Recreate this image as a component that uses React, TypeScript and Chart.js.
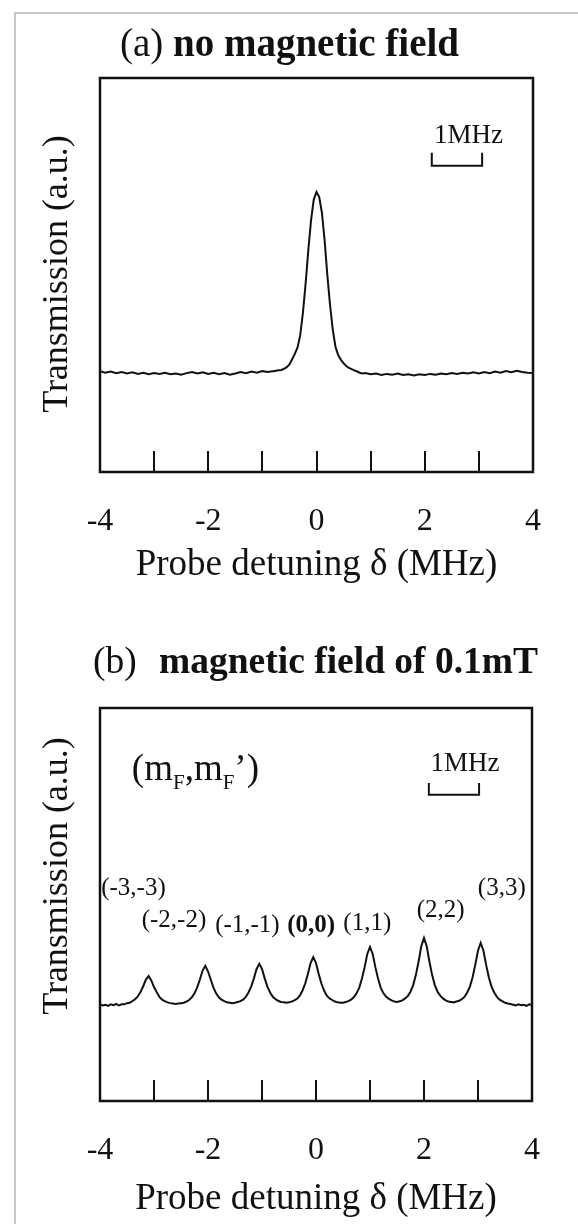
import React, { useEffect, useRef } from 'react';
import { Chart, registerables } from 'chart.js';

Chart.register(...registerables);

const SERIF = '"Liberation Serif", "Times New Roman", serif';
const INK = '#111111';

// ---------- Panel (a): no magnetic field ----------
const xA = [
  -4, -3.9, -3.8, -3.7, -3.6, -3.5, -3.4, -3.3, -3.2, -3.1, -3, -2.9, -2.8, -2.7, -2.6, -2.5,
  -2.4, -2.3, -2.2, -2.1, -2, -1.9, -1.8, -1.7, -1.6, -1.5, -1.4, -1.3, -1.2, -1.1, -1, -0.9,
  -0.85, -0.8, -0.75, -0.7, -0.65, -0.6, -0.55, -0.5, -0.45, -0.4, -0.35, -0.3, -0.25, -0.2, -0.15, -0.1, -0.05,
  0, 0.05, 0.1, 0.15, 0.2, 0.25, 0.3, 0.35, 0.4, 0.45, 0.5, 0.55, 0.6, 0.65, 0.7, 0.75, 0.8, 0.85,
  0.9, 1, 1.1, 1.2, 1.3, 1.4, 1.5, 1.6, 1.7, 1.8, 1.9, 2, 2.1, 2.2, 2.3, 2.4,
  2.5, 2.6, 2.7, 2.8, 2.9, 3, 3.1, 3.2, 3.3, 3.4, 3.5, 3.6, 3.7, 3.8, 3.9, 4,
];
const yA = [
  0.256, 0.252, 0.255, 0.251, 0.254, 0.250, 0.253, 0.249, 0.252, 0.248, 0.251, 0.249, 0.252, 0.248, 0.250, 0.247,
  0.251, 0.254, 0.250, 0.253, 0.249, 0.252, 0.248, 0.251, 0.247, 0.250, 0.254, 0.251, 0.255, 0.252, 0.256, 0.254,
  0.255, 0.256, 0.257, 0.258, 0.259, 0.262, 0.266, 0.273, 0.286, 0.300, 0.316, 0.348, 0.405, 0.480, 0.565, 0.640, 0.692,
  0.711, 0.698, 0.658, 0.588, 0.500, 0.424, 0.362, 0.318, 0.297, 0.285, 0.276, 0.269, 0.264, 0.261, 0.258, 0.255, 0.252, 0.250,
  0.251, 0.248, 0.250, 0.246, 0.249, 0.247, 0.250, 0.246, 0.248, 0.245, 0.248, 0.246, 0.249, 0.247, 0.250, 0.248,
  0.251, 0.249, 0.252, 0.250, 0.253, 0.250, 0.254, 0.251, 0.255, 0.252, 0.256, 0.253, 0.257, 0.254, 0.252, 0.251,
];

// ---------- Panel (b): magnetic field of 0.1 mT ----------
const xB = [
  -4, -3.95, -3.9, -3.85, -3.8, -3.75, -3.7, -3.65, -3.6, -3.55, -3.5, -3.45, -3.4, -3.35, -3.3, -3.25, -3.2, -3.15, -3.1, -3.05,
  -3, -2.95, -2.9, -2.85, -2.8, -2.75, -2.7, -2.65, -2.6, -2.55, -2.5, -2.45, -2.4, -2.35, -2.3, -2.25, -2.2, -2.15, -2.1, -2.05,
  -2, -1.95, -1.9, -1.85, -1.8, -1.75, -1.7, -1.65, -1.6, -1.55, -1.5, -1.45, -1.4, -1.35, -1.3, -1.25, -1.2, -1.15, -1.1, -1.05,
  -1, -0.95, -0.9, -0.85, -0.8, -0.75, -0.7, -0.65, -0.6, -0.55, -0.5, -0.45, -0.4, -0.35, -0.3, -0.25, -0.2, -0.15, -0.1, -0.05,
  0, 0.05, 0.1, 0.15, 0.2, 0.25, 0.3, 0.35, 0.4, 0.45, 0.5, 0.55, 0.6, 0.65, 0.7, 0.75, 0.8, 0.85, 0.9, 0.95,
  1, 1.05, 1.1, 1.15, 1.2, 1.25, 1.3, 1.35, 1.4, 1.45, 1.5, 1.55, 1.6, 1.65, 1.7, 1.75, 1.8, 1.85, 1.9, 1.95,
  2, 2.05, 2.1, 2.15, 2.2, 2.25, 2.3, 2.35, 2.4, 2.45, 2.5, 2.55, 2.6, 2.65, 2.7, 2.75, 2.8, 2.85, 2.9, 2.95,
  3, 3.05, 3.1, 3.15, 3.2, 3.25, 3.3, 3.35, 3.4, 3.45, 3.5, 3.55, 3.6, 3.65, 3.7, 3.75, 3.8, 3.85, 3.9, 3.95,
  4,
];
const yB = [
  0.246, 0.243, 0.245, 0.242, 0.246, 0.244, 0.247, 0.243, 0.246, 0.246, 0.249, 0.250, 0.254, 0.259, 0.266, 0.277, 0.292, 0.309, 0.318, 0.307,
  0.290, 0.277, 0.265, 0.258, 0.254, 0.251, 0.249, 0.248, 0.247, 0.248, 0.249, 0.250, 0.253, 0.257, 0.264, 0.274, 0.289, 0.309, 0.332, 0.344,
  0.330, 0.309, 0.289, 0.274, 0.264, 0.258, 0.254, 0.251, 0.250, 0.249, 0.250, 0.252, 0.254, 0.258, 0.265, 0.276, 0.291, 0.312, 0.336, 0.349,
  0.336, 0.312, 0.291, 0.276, 0.265, 0.259, 0.255, 0.252, 0.251, 0.250, 0.251, 0.253, 0.256, 0.260, 0.268, 0.281, 0.299, 0.323, 0.351, 0.366,
  0.351, 0.323, 0.299, 0.281, 0.268, 0.261, 0.257, 0.253, 0.251, 0.250, 0.250, 0.252, 0.254, 0.258, 0.264, 0.274, 0.288, 0.311, 0.340, 0.374,
  0.392, 0.374, 0.340, 0.311, 0.288, 0.274, 0.265, 0.260, 0.256, 0.253, 0.252, 0.254, 0.256, 0.261, 0.267, 0.278, 0.295, 0.321, 0.355, 0.394,
  0.415, 0.394, 0.355, 0.321, 0.295, 0.278, 0.268, 0.261, 0.256, 0.253, 0.252, 0.251, 0.253, 0.255, 0.259, 0.265, 0.276, 0.291, 0.315, 0.347,
  0.383, 0.402, 0.383, 0.347, 0.315, 0.291, 0.276, 0.265, 0.258, 0.254, 0.250, 0.248, 0.247, 0.245, 0.243, 0.246, 0.244, 0.245, 0.242, 0.246,
  0.244,
];

// axis ticks
const tickValues = [-4, -3, -2, -1, 0, 1, 2, 3, 4];
const labelledTicks = [-4, -2, 0, 2, 4];
const innerTicks = [-3, -2, -1, 0, 1, 2, 3];

// peak labels for panel (b)
const peakLabels = ['(-3,-3)', '(-2,-2)', '(-1,-1)', '(0,0)', '(1,1)', '(2,2)', '(3,3)'];
const peakLabelX = [-3.38, -2.63, -1.27, -0.09, 0.95, 2.31, 3.44];
const peakLabelY = [0.524, 0.443, 0.430, 0.430, 0.435, 0.468, 0.524];
const peakLabelBold = [false, false, false, true, false, false, false];

type PanelCfg = {
  tag: string;
  title: string;
  titleSize: number;
  tagX: number;
  boldX: number;
  titleY: number;
  yTitleCenter: number;
  bar: { x0: number; x1: number; yBottom: number; yTop: number; textX: number; textY: number };
  mf?: { x: number; y: number };
  peaks?: boolean;
};

function makeDeco(cfg: PanelCfg) {
  return {
    id: 'deco',
    afterDraw(chart: any) {
      const { ctx, chartArea: a, scales } = chart;
      const xs = scales.x;
      const ys = scales.y;
      ctx.save();
      ctx.strokeStyle = INK;
      ctx.fillStyle = INK;
      // frame
      ctx.lineWidth = 2.5;
      ctx.strokeRect(a.left, a.top, a.right - a.left, a.bottom - a.top);
      // inner ticks
      ctx.lineWidth = 2;
      for (const v of innerTicks) {
        const px = Math.round(xs.getPixelForValue(v));
        ctx.beginPath();
        ctx.moveTo(px, a.bottom);
        ctx.lineTo(px, a.bottom - 21);
        ctx.stroke();
      }
      // y axis title
      ctx.save();
      ctx.translate(58, cfg.yTitleCenter);
      ctx.rotate(-Math.PI / 2);
      ctx.textAlign = 'center';
      ctx.textBaseline = 'middle';
      ctx.font = `36px ${SERIF}`;
      ctx.fillText('Transmission (a.u.)', 0, 0);
      ctx.restore();
      // panel title
      ctx.textAlign = 'left';
      ctx.textBaseline = 'alphabetic';
      ctx.font = `${cfg.titleSize}px ${SERIF}`;
      ctx.fillText(cfg.tag, cfg.tagX, cfg.titleY);
      ctx.font = `bold ${cfg.titleSize}px ${SERIF}`;
      ctx.fillText(cfg.title, cfg.boldX, cfg.titleY);
      // scale bar
      const b = cfg.bar;
      const bx0 = xs.getPixelForValue(b.x0);
      const bx1 = xs.getPixelForValue(b.x1);
      const by0 = ys.getPixelForValue(b.yBottom);
      const by1 = ys.getPixelForValue(b.yTop);
      ctx.lineWidth = 2;
      ctx.beginPath();
      ctx.moveTo(bx0, by1);
      ctx.lineTo(bx0, by0);
      ctx.lineTo(bx1, by0);
      ctx.lineTo(bx1, by1);
      ctx.stroke();
      ctx.font = `27px ${SERIF}`;
      ctx.textAlign = 'center';
      ctx.fillText('1MHz', xs.getPixelForValue(b.textX), ys.getPixelForValue(b.textY));
      // (mF, mF') label
      if (cfg.mf) {
        let x = xs.getPixelForValue(cfg.mf.x);
        const y = ys.getPixelForValue(cfg.mf.y);
        ctx.textAlign = 'left';
        const parts: [string, boolean][] = [['(m', false], ['F', true], [',m', false], ['F', true], ['\u2019)', false]];
        for (const [t, sub] of parts) {
          ctx.font = sub ? `21px ${SERIF}` : `37px ${SERIF}`;
          ctx.fillText(t, x, sub ? y + 9 : y);
          x += ctx.measureText(t).width;
        }
      }
      if (cfg.peaks) {
        ctx.textAlign = 'center';
        peakLabels.forEach((t, i) => {
          ctx.font = `${peakLabelBold[i] ? 'bold ' : ''}25px ${SERIF}`;
          ctx.fillText(t, xs.getPixelForValue(peakLabelX[i]), ys.getPixelForValue(peakLabelY[i]));
        });
      }
      ctx.restore();
    },
  };
}

function buildConfig(xs: number[], ys: number[], cfg: PanelCfg, dims: { padTop: number; padRight: number; xHeight: number; xTitlePad: number }) {
  return {
    type: 'line' as const,
    data: {
      datasets: [
        {
          data: xs.map((x, i) => ({ x, y: ys[i] })),
          borderColor: INK,
          borderWidth: 2,
          pointRadius: 0,
          tension: 0,
          fill: false,
        },
      ],
    },
    options: {
      animation: false as const,
      responsive: false,
      maintainAspectRatio: false,
      layout: { padding: { top: dims.padTop, right: dims.padRight, left: 0, bottom: 0 } },
      plugins: { legend: { display: false }, tooltip: { enabled: false }, title: { display: false } },
      scales: {
        x: {
          type: 'linear' as const,
          min: -4,
          max: 4,
          afterBuildTicks: (axis: any) => {
            axis.ticks = tickValues.map((v) => ({ value: v }));
          },
          afterFit: (axis: any) => {
            axis.height = dims.xHeight;
          },
          grid: { display: false, drawTicks: false },
          border: { display: false },
          ticks: {
            autoSkip: false,
            maxRotation: 0,
            padding: 30,
            color: INK,
            font: { family: SERIF, size: 32 },
            callback: (v: any) => (labelledTicks.includes(Number(v)) ? String(v) : ''),
          },
          title: {
            display: true,
            text: 'Probe detuning \u03b4 (MHz)',
            color: INK,
            font: { family: SERIF, size: 37 },
            padding: { top: 0, bottom: dims.xTitlePad },
          },
        },
        y: {
          type: 'linear' as const,
          min: 0,
          max: 1,
          afterFit: (axis: any) => {
            axis.width = 100;
          },
          grid: { display: false },
          border: { display: false },
          ticks: { display: false },
          title: { display: false },
        },
      },
    },
    plugins: [makeDeco(cfg)],
  };
}

function Panel({ top, height, xs, ys, cfg, dims }: any) {
  const ref = useRef<HTMLCanvasElement>(null);
  useEffect(() => {
    if (!ref.current) return;
    const chart = new Chart(ref.current, buildConfig(xs, ys, cfg, dims) as any);
    return () => chart.destroy();
  }, []);
  return (
    <canvas
      ref={ref}
      width={578}
      height={height}
      style={{ position: 'absolute', left: 0, top, width: 578, height }}
    />
  );
}

const cfgA: PanelCfg = {
  tag: '(a)',
  title: 'no magnetic field',
  titleSize: 39,
  tagX: 120,
  boldX: 173,
  titleY: 56,
  yTitleCenter: 274,
  bar: { x0: 2.13, x1: 3.06, yBottom: 0.777, yTop: 0.81, textX: 2.81, textY: 0.835 },
};

const cfgB: PanelCfg = {
  tag: '(b)',
  title: 'magnetic field of 0.1mT',
  titleSize: 37.5,
  tagX: 93,
  boldX: 159,
  titleY: 73,
  yTitleCenter: 276,
  bar: { x0: 2.09, x1: 3.02, yBottom: 0.779, yTop: 0.809, textX: 2.76, textY: 0.84 },
  mf: { x: -3.41, y: 0.817 },
  peaks: true,
};

export default function App() {
  return (
    <div style={{ position: 'absolute', left: 0, top: 0, width: 578, height: 1224, background: '#fff', overflow: 'hidden' }}>
      <div
        style={{
          position: 'absolute',
          left: 14,
          top: 12,
          width: 564,
          height: 1212,
          borderLeft: '2px solid #c6c6cc',
          borderTop: '2px solid #c6c6cc',
          boxSizing: 'border-box',
        }}
      />
      <Panel top={0} height={600} xs={xA} ys={yA} cfg={cfgA} dims={{ padTop: 78, padRight: 45, xHeight: 128, xTitlePad: 13 }} />
      <Panel top={600} height={624} xs={xB} ys={yB} cfg={cfgB} dims={{ padTop: 108, padRight: 46, xHeight: 123, xTitlePad: 3 }} />
    </div>
  );
}
